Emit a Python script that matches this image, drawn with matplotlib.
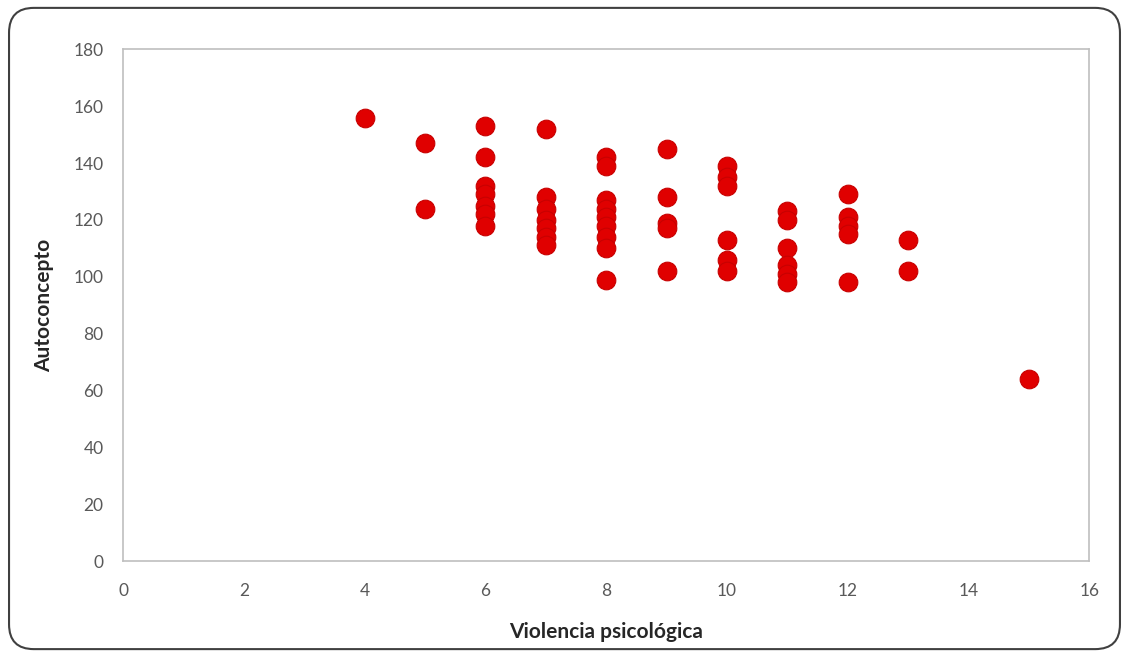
import matplotlib
matplotlib.use("Agg")
from matplotlib import pyplot as plt
from matplotlib.patches import FancyBboxPatch

plt.rcParams['font.family'] = ['Lato', 'DejaVu Sans']

# data: violencia psicologica -> autoconcepto
x4 = [4]
y4 = [156]
x5 = [5, 5]
y5 = [147, 124]
x6 = [6] * 7
y6 = [153, 142, 132, 129, 125, 122, 118]
x7 = [7] * 7
y7 = [152, 128, 124, 120, 117, 114, 111]
x8 = [8] * 9
y8 = [142, 139, 127, 124, 121, 118, 114, 110, 99]
x9 = [9] * 5
y9 = [145, 128, 119, 117, 102]
x10 = [10] * 6
y10 = [139, 135, 132, 113, 106, 102]
x11 = [11] * 6
y11 = [123, 120, 110, 104, 101, 98]
x12 = [12] * 5
y12 = [129, 121, 118, 115, 98]
x13 = [13, 13]
y13 = [113, 102]
x15 = [15]
y15 = [64]

xs = x4 + x5 + x6 + x7 + x8 + x9 + x10 + x11 + x12 + x13 + x15
ys = y4 + y5 + y6 + y7 + y8 + y9 + y10 + y11 + y12 + y13 + y15

fig = plt.figure(figsize=(11.29, 6.57), dpi=100)
ax = fig.add_axes([0.109, 0.146, 0.856, 0.779])

ax.scatter(xs, ys, s=180, color='#E00000', edgecolors='#C80000', linewidths=0.8, zorder=3)

ax.set_xlim(0, 16)
ax.set_ylim(0, 180)
ax.set_xticks(range(0, 17, 2))
ax.set_yticks(range(0, 181, 20))
ax.tick_params(axis='x', length=0, labelsize=12.5, colors='#595959', pad=16)
ax.tick_params(axis='y', length=0, labelsize=12.5, colors='#595959', pad=14)
for sp in ax.spines.values():
    sp.set_color('#BFBFBF')
    sp.set_linewidth(1.2)

ax.set_xlabel('Violencia psicológica', fontsize=15, fontweight='bold', color='#262626', labelpad=16)
ax.set_ylabel('Autoconcepto', fontsize=15, fontweight='bold', color='#262626', labelpad=14)

# rounded outer frame
box = FancyBboxPatch((0.008, 0.012), 0.984, 0.976, boxstyle="round,pad=0,rounding_size=0.022",
                     transform=fig.transFigure, fill=False, edgecolor='#404040', linewidth=1.5,
                     mutation_aspect=1129 / 657)
fig.patches.append(box)

fig.savefig('out.png', dpi=100)
